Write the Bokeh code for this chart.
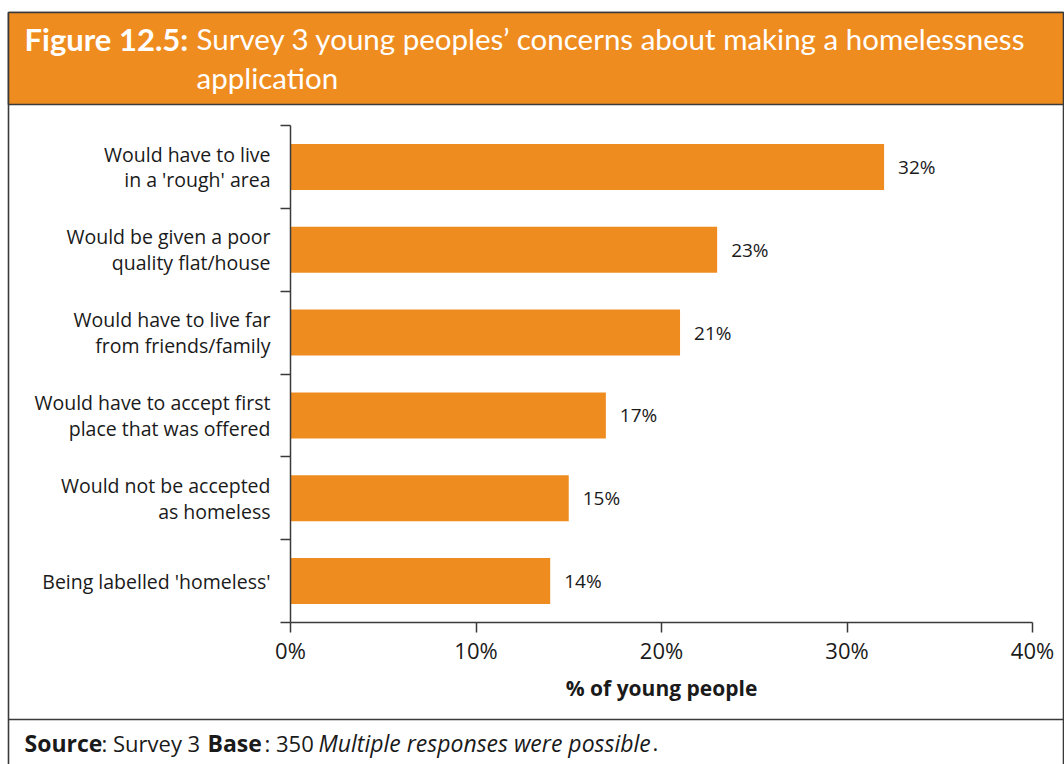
from bokeh.plotting import figure
from bokeh.models import Range1d, FixedTicker, Label, ColumnDataSource, LabelSet, PrintfTickFormatter
from bokeh.embed import file_html
from bokeh.resources import INLINE
from bokeh.core.properties import value

# ---- data ----
categories = [
    "Would have to live\nin a 'rough' area",
    "Would be given a poor\nquality flat/house",
    "Would have to live far\nfrom friends/family",
    "Would have to accept first\nplace that was offered",
    "Would not be accepted\nas homeless",
    "Being labelled 'homeless'",
]
values = [32, 23, 21, 17, 15, 14]
x_ticks = [0, 10, 20, 30, 40]
x_axis_title = "% of young people"
title_bold = "Figure 12.5:"
title_line1 = "Survey 3 young peoples\u2019 concerns about making a homelessness"
title_line2 = "application"

ORANGE = "#EF8C20"
DARK = "#3a3a3a"
TEXT = "#1a1a1a"
FONT = "Open Sans"
HFONT = "Lato"

n = len(categories)
ypos = [n - i - 0.5 for i in range(n)]
labels = [f"{v}%" for v in values]

# ---- layout: the plotting frame covers the whole canvas; axes drawn at fixed locations ----
W, H = 1064, 764
AX_L, AX_R = 290, 1032      # pixel x of 0% and 40%
AX_B, AX_T = 622, 125       # pixel y of the bottom and top of the category axis
kx = (AX_R - AX_L) / (x_ticks[-1] - x_ticks[0])
ky = (AX_B - AX_T) / n

def dx(px):
    return (px - AX_L) / kx
def dy(py):
    return (AX_B - py) / ky

p = figure(width=W, height=H, x_range=Range1d(dx(0), dx(W)), y_range=Range1d(dy(H), dy(0)),
           output_backend="svg", toolbar_location=None, min_border=0)
p.outline_line_color = None
p.xgrid.grid_line_color = None
p.ygrid.grid_line_color = None
p.background_fill_color = "white"
p.border_fill_color = "white"

# frame boxes
p.quad(left=[dx(8)], right=[dx(1063)], top=[dy(12)], bottom=[dy(770)],
       fill_color="white", line_color=DARK, line_width=1.6)
p.quad(left=[dx(8)], right=[dx(1063)], top=[dy(12)], bottom=[dy(104)],
       fill_color=ORANGE, line_color=DARK, line_width=1.6)
p.segment(x0=[dx(8)], x1=[dx(1063)], y0=[dy(719)], y1=[dy(719)], line_color=DARK, line_width=1.6)

# bars
src = ColumnDataSource(dict(y=ypos, v=values, lab=labels))
p.hbar(y="y", right="v", left=0, height=0.555, source=src, fill_color=ORANGE, line_color=None)
p.add_layout(LabelSet(x="v", y="y", text="lab", source=src, x_offset=14, text_baseline="middle",
                      text_font=value(FONT), text_font_size=value("19px"), text_color=TEXT))

# axes
xa = p.xaxis[0]
xa.fixed_location = 0
xa.bounds = (x_ticks[0], x_ticks[-1])
xa.ticker = FixedTicker(ticks=x_ticks)
xa.formatter = PrintfTickFormatter(format="%d%%")
xa.axis_line_color = DARK
xa.axis_line_width = 1.5
xa.major_tick_line_color = DARK
xa.major_tick_line_width = 1.5
xa.major_tick_out = 10
xa.major_tick_in = 0
xa.minor_tick_line_color = None
xa.major_label_text_font = FONT
xa.major_label_text_font_size = "22px"
xa.major_label_text_color = TEXT
xa.major_label_standoff = 2
xa.axis_label = x_axis_title
xa.axis_label_text_font = FONT
xa.axis_label_text_font_style = "bold"
xa.axis_label_text_font_size = "21px"
xa.axis_label_text_color = TEXT
xa.axis_label_standoff = 6

ya = p.yaxis[0]
ya.fixed_location = 0
ya.bounds = (0, n)
ya.ticker = FixedTicker(ticks=ypos, minor_ticks=list(range(0, n + 1)))
ya.major_label_overrides = {y: c for y, c in zip(ypos, categories)}
ya.axis_line_color = DARK
ya.axis_line_width = 1.5
ya.major_tick_line_color = None
ya.major_tick_out = 0
ya.major_tick_in = 0
ya.minor_tick_line_color = DARK
ya.minor_tick_line_width = 1.5
ya.minor_tick_out = 10
ya.minor_tick_in = 0
ya.major_label_text_font = FONT
ya.major_label_text_font_size = "19.5px"
ya.major_label_text_color = TEXT
ya.major_label_text_line_height = 0.95
ya.major_label_standoff = 10

# header / footer text
def lab(text, px, py, font, size, style="normal", color="white"):
    p.add_layout(Label(x=dx(px), y=dy(py), text=text,
                       text_font=font, text_font_size=size, text_font_style=style,
                       text_color=color, text_baseline="alphabetic", text_align="left"))

lab(title_bold, 24, 38, HFONT, "31px", "bold")
lab(title_line1, 196, 38, HFONT, "29.5px")
lab(title_line2, 196, 77, HFONT, "29.5px")

FB = "23px"
FR = "22px"
FY = 742
lab("Source", 24, FY, FONT, FB, "bold", TEXT)
lab(": Survey 3", 101, FY, FONT, FR, "normal", TEXT)
lab("Base", 207, FY, FONT, FB, "bold", TEXT)
lab(": 350", 264, FY, FONT, FR, "normal", TEXT)
lab("Multiple responses were possible", 318, FY, FONT, FB, "italic", TEXT)
lab(".", 652, FY, FONT, FR, "normal", TEXT)

open("out.html", "w").write(file_html(p, INLINE))
